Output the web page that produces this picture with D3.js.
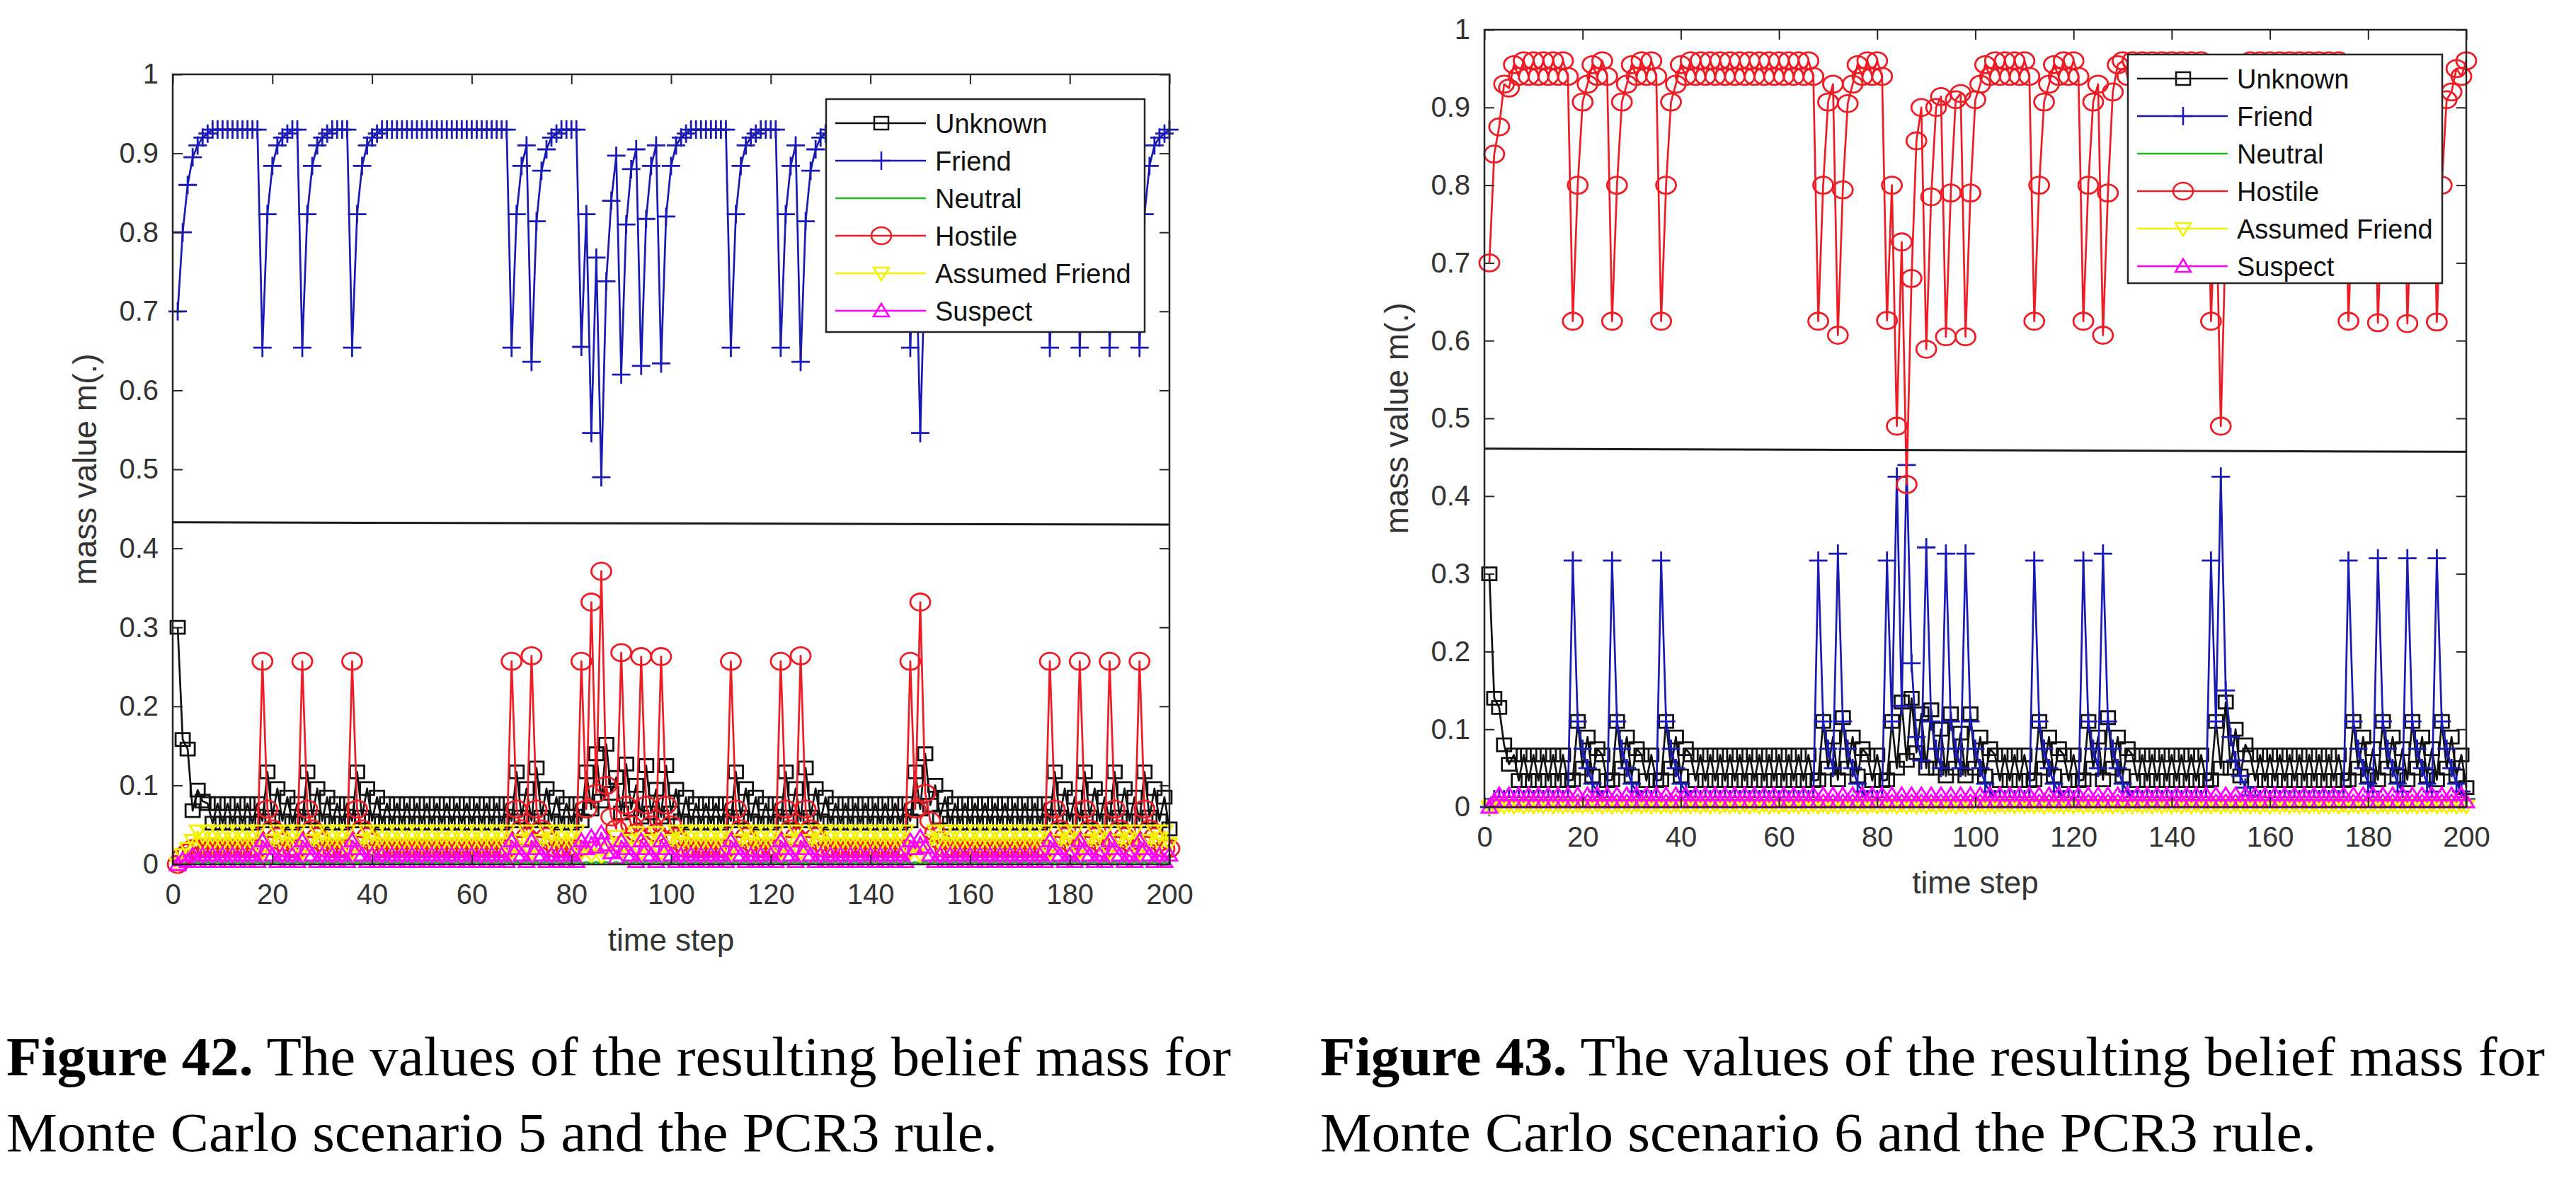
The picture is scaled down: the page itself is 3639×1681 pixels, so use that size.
<!DOCTYPE html>
<html><head><meta charset="utf-8">
<script src="https://cdn.jsdelivr.net/npm/d3@7"></script>
<style>body{margin:0;background:#fff}</style>
</head><body>
<svg id="c" width="3639" height="1681"></svg>
<script>
// ---------- data ----------
const seriesNames = ["Unknown","Friend","Neutral","Hostile","Assumed Friend","Suspect"];
const timeSteps = d3.range(1, 201);
const xTicks = [0,20,40,60,80,100,120,140,160,180,200];
const yTicks = [0,0.1,0.2,0.3,0.4,0.5,0.6,0.7,0.8,0.9,1];
const yTickLabels = ["0","0.1","0.2","0.3","0.4","0.5","0.6","0.7","0.8","0.9","1"];
const yLabel = "mass value m(.)";
const xLabel = "time step";

// Figure 42
const unknown42 = [
0.30,0.158,0.146,0.068,0.094,0.08,0.077,0.052,0.077,0.052,
0.077,0.052,0.077,0.052,0.077,0.052,0.077,0.055,0.117,0.06,
0.096,0.055,0.085,0.052,0.077,0.055,0.117,0.06,0.096,0.055,
0.085,0.052,0.077,0.052,0.077,0.055,0.117,0.06,0.096,0.055,
0.085,0.052,0.077,0.052,0.077,0.052,0.077,0.052,0.077,0.052,
0.077,0.052,0.077,0.052,0.077,0.052,0.077,0.052,0.077,0.052,
0.077,0.052,0.077,0.052,0.077,0.052,0.077,0.055,0.117,0.06,
0.096,0.055,0.122,0.06,0.096,0.055,0.085,0.052,0.077,0.052,
0.077,0.055,0.117,0.07,0.14,0.08,0.152,0.09,0.11,0.065,
0.127,0.07,0.1,0.06,0.125,0.065,0.095,0.06,0.125,0.065,
0.095,0.055,0.085,0.052,0.077,0.052,0.077,0.052,0.077,0.052,
0.077,0.055,0.117,0.06,0.096,0.055,0.085,0.052,0.077,0.052,
0.077,0.055,0.117,0.06,0.096,0.055,0.122,0.06,0.096,0.055,
0.085,0.052,0.077,0.052,0.077,0.052,0.077,0.052,0.077,0.052,
0.077,0.052,0.077,0.052,0.077,0.052,0.077,0.055,0.117,0.07,
0.14,0.075,0.1,0.06,0.085,0.052,0.077,0.052,0.077,0.052,
0.077,0.052,0.077,0.052,0.077,0.052,0.077,0.052,0.077,0.052,
0.077,0.052,0.077,0.052,0.077,0.055,0.117,0.06,0.096,0.055,
0.085,0.055,0.117,0.06,0.096,0.055,0.085,0.055,0.117,0.06,
0.096,0.055,0.085,0.055,0.117,0.06,0.096,0.055,0.085,0.045];
const friend42 = [
0.70,0.80,0.86,0.895,0.91,0.92,0.925,0.93,0.93,0.93,
0.93,0.93,0.93,0.93,0.93,0.93,0.93,0.654,0.823,0.884,
0.91,0.92,0.925,0.93,0.93,0.654,0.823,0.884,0.91,0.92,
0.925,0.93,0.93,0.93,0.93,0.654,0.823,0.884,0.91,0.92,
0.925,0.93,0.93,0.93,0.93,0.93,0.93,0.93,0.93,0.93,
0.93,0.93,0.93,0.93,0.93,0.93,0.93,0.93,0.93,0.93,
0.93,0.93,0.93,0.93,0.93,0.93,0.93,0.654,0.823,0.884,
0.91,0.636,0.814,0.878,0.905,0.92,0.925,0.93,0.93,0.93,
0.93,0.655,0.823,0.546,0.768,0.49,0.738,0.84,0.897,0.62,
0.81,0.88,0.905,0.631,0.817,0.884,0.91,0.634,0.82,0.884,
0.91,0.92,0.925,0.93,0.93,0.93,0.93,0.93,0.93,0.93,
0.93,0.654,0.823,0.884,0.91,0.92,0.925,0.93,0.93,0.93,
0.93,0.654,0.823,0.884,0.91,0.636,0.814,0.878,0.905,0.92,
0.925,0.93,0.93,0.93,0.93,0.93,0.93,0.93,0.93,0.93,
0.93,0.93,0.93,0.93,0.93,0.93,0.93,0.654,0.823,0.546,
0.77,0.86,0.90,0.915,0.925,0.93,0.93,0.93,0.93,0.93,
0.93,0.93,0.93,0.93,0.93,0.93,0.93,0.93,0.93,0.93,
0.93,0.93,0.93,0.93,0.93,0.654,0.823,0.884,0.91,0.92,
0.925,0.654,0.823,0.884,0.91,0.92,0.925,0.654,0.823,0.884,
0.91,0.92,0.925,0.654,0.823,0.884,0.91,0.92,0.925,0.93];
const neutral42 = [
0,.001,.003,.001,.003,.001,.003,.001,.003,.001,
.003,.001,.003,.001,.003,.001,.003,.001,.003,.001,
.003,.001,.003,.001,.003,.001,.003,.001,.003,.001,
.003,.001,.003,.001,.003,.001,.003,.001,.003,.001,
.003,.001,.003,.001,.003,.001,.003,.001,.003,.001,
.003,.001,.003,.001,.003,.001,.003,.001,.003,.001,
.003,.001,.003,.001,.003,.001,.003,.001,.003,.001,
.003,.001,.003,.001,.003,.001,.003,.001,.003,.001,
.003,.001,.003,.001,.003,.001,.003,.001,.003,.001,
.003,.001,.003,.001,.003,.001,.003,.001,.003,.001,
.003,.001,.003,.001,.003,.001,.003,.001,.003,.001,
.003,.001,.003,.001,.003,.001,.003,.001,.003,.001,
.003,.001,.003,.001,.003,.001,.003,.001,.003,.001,
.003,.001,.003,.001,.003,.001,.003,.001,.003,.001,
.003,.001,.003,.001,.003,.001,.003,.001,.003,.001,
.003,.001,.003,.001,.003,.001,.003,.001,.003,.001,
.003,.001,.003,.001,.003,.001,.003,.001,.003,.001,
.003,.001,.003,.001,.003,.001,.003,.001,.003,.001,
.003,.001,.003,.001,.003,.001,.003,.001,.003,.001,
.003,.001,.003,.001,.003,.001,.003,.001,.003,.001];
const hostile42 = [
0,0.01,0.015,0.02,0.02,0.02,0.02,0.02,0.02,0.02,
0.02,0.02,0.02,0.02,0.02,0.02,0.02,0.257,0.07,0.045,
0.035,0.028,0.02,0.02,0.02,0.257,0.07,0.045,0.035,0.028,
0.02,0.02,0.02,0.02,0.02,0.257,0.07,0.045,0.035,0.028,
0.02,0.02,0.02,0.02,0.02,0.02,0.02,0.02,0.02,0.02,
0.02,0.02,0.02,0.02,0.02,0.02,0.02,0.02,0.02,0.02,
0.02,0.02,0.02,0.02,0.02,0.02,0.02,0.257,0.07,0.045,
0.035,0.264,0.07,0.045,0.035,0.028,0.02,0.02,0.02,0.02,
0.02,0.257,0.07,0.332,0.09,0.371,0.1,0.06,0.045,0.268,
0.075,0.05,0.04,0.263,0.075,0.05,0.04,0.263,0.075,0.05,
0.035,0.028,0.02,0.02,0.02,0.02,0.02,0.02,0.02,0.02,
0.02,0.257,0.07,0.045,0.035,0.028,0.02,0.02,0.02,0.02,
0.02,0.257,0.07,0.045,0.035,0.264,0.07,0.045,0.035,0.028,
0.02,0.02,0.02,0.02,0.02,0.02,0.02,0.02,0.02,0.02,
0.02,0.02,0.02,0.02,0.02,0.02,0.02,0.257,0.07,0.332,
0.09,0.055,0.04,0.03,0.02,0.02,0.02,0.02,0.02,0.02,
0.02,0.02,0.02,0.02,0.02,0.02,0.02,0.02,0.02,0.02,
0.02,0.02,0.02,0.02,0.02,0.257,0.07,0.045,0.035,0.028,
0.02,0.257,0.07,0.045,0.035,0.028,0.02,0.257,0.07,0.045,
0.035,0.028,0.02,0.257,0.07,0.045,0.035,0.028,0.02,0.02];
const assumed42 = [
0,0.012,0.02,0.03,0.042,0.026,0.042,0.026,0.042,0.026,
0.042,0.026,0.042,0.026,0.042,0.026,0.042,0.015,0.02,0.03,
0.042,0.026,0.042,0.026,0.042,0.015,0.02,0.03,0.042,0.026,
0.042,0.026,0.042,0.026,0.042,0.015,0.02,0.03,0.042,0.026,
0.042,0.026,0.042,0.026,0.042,0.026,0.042,0.026,0.042,0.026,
0.042,0.026,0.042,0.026,0.042,0.026,0.042,0.026,0.042,0.026,
0.042,0.026,0.042,0.026,0.042,0.026,0.042,0.015,0.02,0.03,
0.042,0.015,0.02,0.03,0.042,0.026,0.042,0.026,0.042,0.026,
0.042,0.015,0.02,0.012,0.02,0.01,0.018,0.025,0.035,0.015,
0.02,0.03,0.04,0.015,0.02,0.03,0.04,0.015,0.02,0.03,
0.042,0.026,0.042,0.026,0.042,0.026,0.042,0.026,0.042,0.026,
0.042,0.015,0.02,0.03,0.042,0.026,0.042,0.026,0.042,0.026,
0.042,0.015,0.02,0.03,0.042,0.015,0.02,0.03,0.042,0.026,
0.042,0.026,0.042,0.026,0.042,0.026,0.042,0.026,0.042,0.026,
0.042,0.026,0.042,0.026,0.042,0.026,0.042,0.015,0.02,0.012,
0.02,0.03,0.042,0.026,0.042,0.026,0.042,0.026,0.042,0.026,
0.042,0.026,0.042,0.026,0.042,0.026,0.042,0.026,0.042,0.026,
0.042,0.026,0.042,0.026,0.042,0.015,0.02,0.03,0.042,0.026,
0.042,0.015,0.02,0.03,0.042,0.026,0.042,0.015,0.02,0.03,
0.042,0.026,0.042,0.015,0.02,0.03,0.042,0.026,0.042,0.026];
const suspect42 = [
0,0.006,0.004,0.012,0.004,0.012,0.004,0.012,0.004,0.012,
0.004,0.012,0.004,0.012,0.004,0.012,0.004,0.03,0.02,0.012,
0.004,0.012,0.004,0.012,0.004,0.03,0.02,0.012,0.004,0.012,
0.004,0.012,0.004,0.012,0.004,0.03,0.02,0.012,0.004,0.012,
0.004,0.012,0.004,0.012,0.004,0.012,0.004,0.012,0.004,0.012,
0.004,0.012,0.004,0.012,0.004,0.012,0.004,0.012,0.004,0.012,
0.004,0.012,0.004,0.012,0.004,0.012,0.004,0.03,0.02,0.012,
0.004,0.03,0.02,0.012,0.004,0.012,0.004,0.012,0.004,0.012,
0.004,0.03,0.02,0.035,0.022,0.04,0.025,0.015,0.008,0.03,
0.02,0.012,0.004,0.03,0.02,0.012,0.004,0.03,0.02,0.012,
0.004,0.012,0.004,0.012,0.004,0.012,0.004,0.012,0.004,0.012,
0.004,0.03,0.02,0.012,0.004,0.012,0.004,0.012,0.004,0.012,
0.004,0.03,0.02,0.012,0.004,0.03,0.02,0.012,0.004,0.012,
0.004,0.012,0.004,0.012,0.004,0.012,0.004,0.012,0.004,0.012,
0.004,0.012,0.004,0.012,0.004,0.012,0.004,0.03,0.02,0.035,
0.022,0.012,0.004,0.012,0.004,0.012,0.004,0.012,0.004,0.012,
0.004,0.012,0.004,0.012,0.004,0.012,0.004,0.012,0.004,0.012,
0.004,0.012,0.004,0.012,0.004,0.03,0.02,0.012,0.004,0.012,
0.004,0.03,0.02,0.012,0.004,0.012,0.004,0.03,0.02,0.012,
0.004,0.012,0.004,0.03,0.02,0.012,0.004,0.012,0.004,0.012];
const refLine42 = [0.433, 0.430];

// Figure 43
const unknown43 = [
0.30,0.14,0.128,0.08,0.055,0.067,0.034,0.067,0.034,0.067,
0.034,0.067,0.034,0.067,0.034,0.067,0.034,0.035,0.11,0.05,
0.09,0.04,0.075,0.067,0.034,0.035,0.11,0.05,0.09,0.04,
0.075,0.067,0.034,0.067,0.034,0.035,0.11,0.05,0.09,0.04,
0.075,0.067,0.034,0.067,0.034,0.067,0.034,0.067,0.034,0.067,
0.034,0.067,0.034,0.067,0.034,0.067,0.034,0.067,0.034,0.067,
0.034,0.067,0.034,0.067,0.034,0.067,0.034,0.035,0.11,0.05,
0.09,0.035,0.115,0.05,0.09,0.04,0.075,0.067,0.034,0.067,
0.034,0.035,0.11,0.05,0.135,0.06,0.14,0.07,0.12,0.05,
0.125,0.05,0.1,0.04,0.12,0.05,0.095,0.04,0.12,0.05,
0.09,0.04,0.075,0.067,0.034,0.067,0.034,0.067,0.034,0.067,
0.034,0.035,0.11,0.05,0.09,0.04,0.075,0.067,0.034,0.067,
0.034,0.035,0.11,0.05,0.09,0.035,0.115,0.05,0.09,0.04,
0.075,0.067,0.034,0.067,0.034,0.067,0.034,0.067,0.034,0.067,
0.034,0.067,0.034,0.067,0.034,0.067,0.034,0.035,0.11,0.05,
0.135,0.05,0.1,0.04,0.08,0.067,0.034,0.067,0.034,0.067,
0.034,0.067,0.034,0.067,0.034,0.067,0.034,0.067,0.034,0.067,
0.034,0.067,0.034,0.067,0.034,0.035,0.11,0.05,0.09,0.04,
0.075,0.035,0.11,0.05,0.09,0.04,0.075,0.035,0.11,0.05,
0.09,0.04,0.075,0.035,0.11,0.05,0.09,0.04,0.067,0.025];
const friend43 = [
0,0.01,0.012,0.01,0.01,0.01,0.01,0.01,0.01,0.01,
0.01,0.01,0.01,0.01,0.01,0.01,0.01,0.317,0.11,0.075,
0.05,0.03,0.02,0.01,0.01,0.317,0.11,0.075,0.05,0.03,
0.02,0.01,0.01,0.01,0.01,0.317,0.11,0.075,0.05,0.03,
0.02,0.01,0.01,0.01,0.01,0.01,0.01,0.01,0.01,0.01,
0.01,0.01,0.01,0.01,0.01,0.01,0.01,0.01,0.01,0.01,
0.01,0.01,0.01,0.01,0.01,0.01,0.01,0.317,0.11,0.075,
0.05,0.326,0.11,0.075,0.05,0.03,0.02,0.01,0.01,0.01,
0.01,0.317,0.11,0.425,0.13,0.44,0.185,0.09,0.06,0.334,
0.11,0.075,0.05,0.326,0.11,0.075,0.05,0.326,0.11,0.075,
0.05,0.03,0.02,0.01,0.01,0.01,0.01,0.01,0.01,0.01,
0.01,0.317,0.11,0.075,0.05,0.03,0.02,0.01,0.01,0.01,
0.01,0.317,0.11,0.075,0.05,0.326,0.11,0.075,0.05,0.03,
0.02,0.01,0.01,0.01,0.01,0.01,0.01,0.01,0.01,0.01,
0.01,0.01,0.01,0.01,0.01,0.01,0.01,0.317,0.11,0.425,
0.15,0.09,0.06,0.04,0.025,0.015,0.01,0.01,0.01,0.01,
0.01,0.01,0.01,0.01,0.01,0.01,0.01,0.01,0.01,0.01,
0.01,0.01,0.01,0.01,0.01,0.317,0.11,0.075,0.05,0.03,
0.02,0.32,0.11,0.075,0.05,0.03,0.02,0.32,0.11,0.075,
0.05,0.03,0.02,0.32,0.11,0.075,0.05,0.03,0.02,0.01];
const neutral43 = [
0,.002,.001,.002,.001,.002,.001,.002,.001,.002,
.001,.002,.001,.002,.001,.002,.001,.002,.001,.002,
.001,.002,.001,.002,.001,.002,.001,.002,.001,.002,
.001,.002,.001,.002,.001,.002,.001,.002,.001,.002,
.001,.002,.001,.002,.001,.002,.001,.002,.001,.002,
.001,.002,.001,.002,.001,.002,.001,.002,.001,.002,
.001,.002,.001,.002,.001,.002,.001,.002,.001,.002,
.001,.002,.001,.002,.001,.002,.001,.002,.001,.002,
.001,.002,.001,.002,.001,.002,.001,.002,.001,.002,
.001,.002,.001,.002,.001,.002,.001,.002,.001,.002,
.001,.002,.001,.002,.001,.002,.001,.002,.001,.002,
.001,.002,.001,.002,.001,.002,.001,.002,.001,.002,
.001,.002,.001,.002,.001,.002,.001,.002,.001,.002,
.001,.002,.001,.002,.001,.002,.001,.002,.001,.002,
.001,.002,.001,.002,.001,.002,.001,.002,.001,.002,
.001,.002,.001,.002,.001,.002,.001,.002,.001,.002,
.001,.002,.001,.002,.001,.002,.001,.002,.001,.002,
.001,.002,.001,.002,.001,.002,.001,.002,.001,.002,
.001,.002,.001,.002,.001,.002,.001,.002,.001,.002,
.001,.002,.001,.002,.001,.002,.001,.002,.001,.002];
const hostile43 = [
0.70,0.84,0.875,0.93,0.925,0.955,0.94,0.96,0.94,0.96,
0.94,0.96,0.94,0.96,0.94,0.96,0.94,0.625,0.80,0.907,
0.93,0.955,0.94,0.96,0.94,0.625,0.80,0.907,0.93,0.955,
0.94,0.96,0.94,0.96,0.94,0.625,0.80,0.907,0.93,0.955,
0.94,0.96,0.94,0.96,0.94,0.96,0.94,0.96,0.94,0.96,
0.94,0.96,0.94,0.96,0.94,0.96,0.94,0.96,0.94,0.96,
0.94,0.96,0.94,0.96,0.94,0.96,0.94,0.625,0.80,0.907,
0.93,0.607,0.794,0.905,0.93,0.955,0.94,0.96,0.94,0.96,
0.94,0.626,0.80,0.49,0.727,0.415,0.68,0.857,0.90,0.589,
0.785,0.90,0.914,0.605,0.79,0.91,0.918,0.605,0.79,0.91,
0.93,0.955,0.94,0.96,0.94,0.96,0.94,0.96,0.94,0.96,
0.94,0.625,0.80,0.907,0.93,0.955,0.94,0.96,0.94,0.96,
0.94,0.625,0.80,0.907,0.93,0.607,0.79,0.92,0.955,0.96,
0.94,0.96,0.94,0.96,0.94,0.96,0.94,0.96,0.94,0.96,
0.94,0.96,0.94,0.96,0.94,0.96,0.94,0.625,0.80,0.49,
0.74,0.87,0.91,0.93,0.955,0.96,0.94,0.96,0.94,0.96,
0.94,0.96,0.94,0.96,0.94,0.96,0.94,0.96,0.94,0.96,
0.94,0.96,0.94,0.96,0.94,0.625,0.80,0.907,0.93,0.955,
0.94,0.623,0.80,0.907,0.93,0.955,0.94,0.622,0.80,0.907,
0.93,0.955,0.94,0.624,0.80,0.91,0.92,0.95,0.94,0.96];
const assumed43 = [
0,.001,.003,.001,.003,.001,.003,.001,.003,.001,
.003,.001,.003,.001,.003,.001,.003,.001,.003,.001,
.003,.001,.003,.001,.003,.001,.003,.001,.003,.001,
.003,.001,.003,.001,.003,.001,.003,.001,.003,.001,
.003,.001,.003,.001,.003,.001,.003,.001,.003,.001,
.003,.001,.003,.001,.003,.001,.003,.001,.003,.001,
.003,.001,.003,.001,.003,.001,.003,.001,.003,.001,
.003,.001,.003,.001,.003,.001,.003,.001,.003,.001,
.003,.001,.003,.001,.003,.001,.003,.001,.003,.001,
.003,.001,.003,.001,.003,.001,.003,.001,.003,.001,
.003,.001,.003,.001,.003,.001,.003,.001,.003,.001,
.003,.001,.003,.001,.003,.001,.003,.001,.003,.001,
.003,.001,.003,.001,.003,.001,.003,.001,.003,.001,
.003,.001,.003,.001,.003,.001,.003,.001,.003,.001,
.003,.001,.003,.001,.003,.001,.003,.001,.003,.001,
.003,.001,.003,.001,.003,.001,.003,.001,.003,.001,
.003,.001,.003,.001,.003,.001,.003,.001,.003,.001,
.003,.001,.003,.001,.003,.001,.003,.001,.003,.001,
.003,.001,.003,.001,.003,.001,.003,.001,.003,.001,
.003,.001,.003,.001,.003,.001,.003,.001,.003,.001];
const suspect43 = [
0,.008,.016,.007,.016,.007,.016,.007,.016,.007,
.016,.007,.016,.007,.016,.007,.016,.007,.016,.007,
.016,.007,.016,.007,.016,.007,.016,.007,.016,.007,
.016,.007,.016,.007,.016,.007,.016,.007,.016,.007,
.016,.007,.016,.007,.016,.007,.016,.007,.016,.007,
.016,.007,.016,.007,.016,.007,.016,.007,.016,.007,
.016,.007,.016,.007,.016,.007,.016,.007,.016,.007,
.016,.007,.016,.007,.016,.007,.016,.007,.016,.007,
.016,.007,.016,.007,.016,.007,.016,.007,.016,.007,
.016,.007,.016,.007,.016,.007,.016,.007,.016,.007,
.016,.007,.016,.007,.016,.007,.016,.007,.016,.007,
.016,.007,.016,.007,.016,.007,.016,.007,.016,.007,
.016,.007,.016,.007,.016,.007,.016,.007,.016,.007,
.016,.007,.016,.007,.016,.007,.016,.007,.016,.007,
.016,.007,.016,.007,.016,.007,.016,.007,.016,.007,
.016,.007,.016,.007,.016,.007,.016,.007,.016,.007,
.016,.007,.016,.007,.016,.007,.016,.007,.016,.007,
.016,.007,.016,.007,.016,.007,.016,.007,.016,.007,
.016,.007,.016,.007,.016,.007,.016,.007,.016,.007,
.016,.007,.016,.007,.016,.007,.016,.007,.016,.007];
const refLine43 = [0.461, 0.457];

const caption42 = ["Figure 42.", " The values of the resulting belief mass for", "Monte Carlo scenario 5 and the PCR3 rule."];
const caption43 = ["Figure 43.", " The values of the resulting belief mass for", "Monte Carlo scenario 6 and the PCR3 rule."];

// ---------- styles ----------
const seriesStyle = [
  {color:"#111111", marker:"square"},
  {color:"#1a1ab4", marker:"plus"},
  {color:"#22b822", marker:"none"},
  {color:"#ee1c24", marker:"circle"},
  {color:"#f2f200", marker:"tridown"},
  {color:"#ff00ff", marker:"triup"}
];
const markerPaths = {
  square:"M-10,-9H10V9H-10Z",
  plus:"M-13,0H13M0,-13V13",
  circle:"M-14,0A14,12 0 1,0 14,0A14,12 0 1,0 -14,0Z",
  tridown:"M-11,-8L11,-8L0,10Z",
  triup:"M-11,8L11,8L0,-10Z"
};
const sansFont = "'Liberation Sans', Arial, Helvetica, sans-serif";
const serifFont = "'Liberation Serif', 'Times New Roman', serif";
const axisColor = "#262626";

const panels = [
  {x0:244, x1:1652, y0:105, y1:1221,
   series:[unknown42, friend42, neutral42, hostile42, assumed42, suspect42],
   ref:refLine42, legend:{x:1167, y:140, w:450, h:329},
   caption:caption42, capX:9, capW:[1730,1400]},
  {x0:2097, x1:3484, y0:42, y1:1140,
   series:[unknown43, friend43, neutral43, hostile43, assumed43, suspect43],
   ref:refLine43, legend:{x:3006, y:77, w:444, h:323},
   caption:caption43, capX:1865, capW:[1730,1407]}
];

const svg = d3.select("#c");
svg.append("rect").attr("width",3639).attr("height",1681).attr("fill","#fff");

function drawMarkers(g, pts, st, x, y){
  if(!markerPaths[st.marker]) return;
  g.append("g").selectAll("path").data(pts).join("path")
    .attr("d", markerPaths[st.marker])
    .attr("transform", d => `translate(${x(d[0])},${y(d[1])})`)
    .attr("fill","none").attr("stroke", st.color).attr("stroke-width", 2.8);
}

panels.forEach(p => {
  const x = d3.scaleLinear().domain([0,200]).range([p.x0,p.x1]);
  const y = d3.scaleLinear().domain([0,1]).range([p.y1,p.y0]);
  const g = svg.append("g");

  p.series.forEach((vals, si) => {
    const st = seriesStyle[si];
    const pts = vals.map((v,i) => [timeSteps[i], v]);
    g.append("path")
      .attr("d", d3.line().x(d => x(d[0])).y(d => y(d[1]))(pts))
      .attr("fill","none").attr("stroke", st.color)
      .attr("stroke-width", 2.7).attr("stroke-linejoin","round");
    drawMarkers(g, pts, st, x, y);
  });

  // horizontal reference line across the axes
  g.append("line")
    .attr("x1", x(0)).attr("x2", x(200))
    .attr("y1", y(p.ref[0])).attr("y2", y(p.ref[1]))
    .attr("stroke", "#1a1a1a").attr("stroke-width", 3);

  // axes
  const styleAxis = sel => {
    sel.select(".domain").remove();
    sel.selectAll(".tick line").attr("stroke", axisColor).attr("stroke-width", 2);
    sel.selectAll("text").attr("fill", "#333").attr("font-size", 40).attr("font-family", sansFont);
    sel.attr("font-size", 40).attr("font-family", sansFont);
  };
  g.append("g").attr("transform", `translate(0,${p.y1})`)
    .call(d3.axisBottom(x).tickValues(xTicks).tickSize(-14).tickSizeOuter(0).tickPadding(28))
    .call(styleAxis);
  g.append("g").attr("transform", `translate(0,${p.y0})`)
    .call(d3.axisTop(x).tickValues(xTicks).tickSize(-14).tickSizeOuter(0).tickFormat(""))
    .call(styleAxis);
  g.append("g").attr("transform", `translate(${p.x0},0)`)
    .call(d3.axisLeft(y).tickValues(yTicks).tickSize(-14).tickSizeOuter(0).tickPadding(20)
      .tickFormat((d,i) => yTickLabels[i]))
    .call(styleAxis);
  g.append("g").attr("transform", `translate(${p.x1},0)`)
    .call(d3.axisRight(y).tickValues(yTicks).tickSize(-14).tickSizeOuter(0).tickFormat(""))
    .call(styleAxis);
  g.append("rect").attr("x", p.x0).attr("y", p.y0)
    .attr("width", p.x1 - p.x0).attr("height", p.y1 - p.y0)
    .attr("fill","none").attr("stroke", axisColor).attr("stroke-width", 2.5);

  // axis labels
  g.append("text").attr("x", (p.x0 + p.x1)/2).attr("y", p.y1 + 122)
    .attr("text-anchor","middle").attr("font-family", sansFont).attr("font-size", 44)
    .attr("fill","#333").text(xLabel);
  g.append("text")
    .attr("transform", `translate(${p.x0 - 108},${(p.y0 + p.y1)/2}) rotate(-90)`)
    .attr("text-anchor","middle").attr("font-family", sansFont).attr("font-size", 46)
    .attr("fill","#333").text(yLabel);

  // legend
  const L = p.legend;
  const lg = g.append("g");
  lg.append("rect").attr("x", L.x).attr("y", L.y).attr("width", L.w).attr("height", L.h)
    .attr("fill","#fff").attr("stroke", axisColor).attr("stroke-width", 2.5);
  seriesNames.forEach((name, i) => {
    const st = seriesStyle[i];
    const cy = L.y + 34 + i * 53;
    lg.append("line").attr("x1", L.x + 13).attr("x2", L.x + 141).attr("y1", cy).attr("y2", cy)
      .attr("stroke", st.color).attr("stroke-width", 2.5);
    if (markerPaths[st.marker]) {
      lg.append("path").attr("d", markerPaths[st.marker])
        .attr("transform", `translate(${L.x + 78},${cy})`)
        .attr("fill","none").attr("stroke", st.color).attr("stroke-width", 2.5);
    }
    lg.append("text").attr("x", L.x + 154).attr("y", cy).attr("dy","0.36em")
      .attr("font-family", sansFont).attr("font-size", 38).attr("fill","#111").text(name);
  });

  // caption
  const c1 = svg.append("text").attr("x", p.capX).attr("y", 1519)
    .attr("font-family", serifFont).attr("font-size", 78).attr("fill","#000")
    .attr("textLength", p.capW[0]).attr("lengthAdjust","spacingAndGlyphs");
  c1.append("tspan").attr("font-weight","bold").text(p.caption[0]);
  c1.append("tspan").text(p.caption[1]);
  svg.append("text").attr("x", p.capX).attr("y", 1626)
    .attr("font-family", serifFont).attr("font-size", 78).attr("fill","#000")
    .attr("textLength", p.capW[1]).attr("lengthAdjust","spacingAndGlyphs")
    .text(p.caption[2]);
});
</script>
</body></html>
